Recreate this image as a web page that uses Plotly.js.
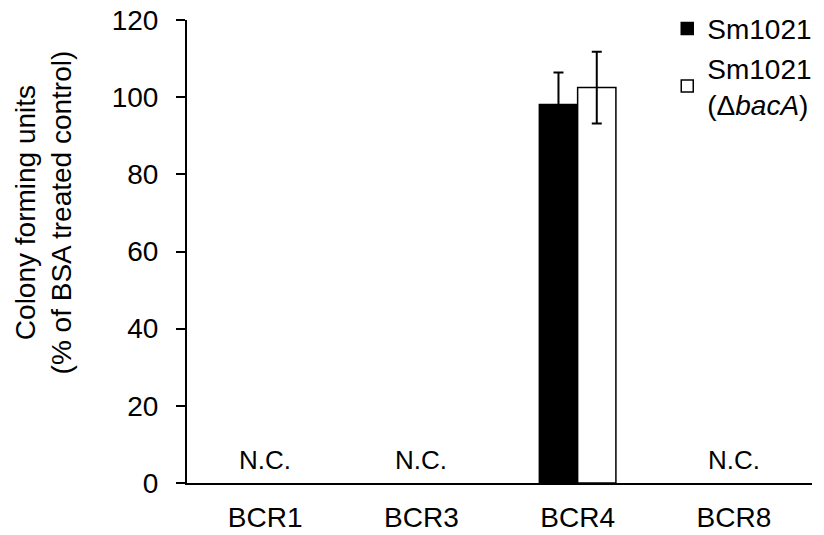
<!DOCTYPE html>
<html>
<head>
<meta charset="utf-8">
<script src="https://cdn.plot.ly/plotly-3.0.1.min.js"></script>
<style>html,body{margin:0;padding:0;background:#fff;}#chart{width:824px;height:535px;}</style>
</head>
<body>
<div id="chart"></div>
<script>
const categories = ["BCR1", "BCR3", "BCR4", "BCR8"];
const wildType = [null, null, 98.1, null];
const wildTypeErr = [null, null, 8.3, null];
const mutant = [null, null, 102.5, null];
const mutantErr = [null, null, 9.3, null];
const notCounted = ["BCR1", "BCR3", "BCR8"];
const yTicks = [0, 20, 40, 60, 80, 100, 120];
const yTitle = "Colony forming units<br>(% of BSA treated control)";

const font = "Liberation Sans, Arial, sans-serif";
const fs = 28;

const traces = [
  {
    type: "bar", name: "Sm1021", legendgroup: "wt", x: categories, y: wildType,
    marker: {color: "#000", line: {color: "#000", width: 1.5}},
    error_y: {type: "data", array: wildTypeErr, visible: true, color: "#000", thickness: 2, width: 5}
  },
  {
    type: "bar", name: "Sm1021<br>(\u0394<i>bacA</i>)", legendgroup: "mut", x: categories, y: mutant,
    marker: {color: "#fff", line: {color: "#000", width: 1.5}},
    error_y: {type: "data", array: mutantErr, visible: true, color: "#000", thickness: 2, width: 5}
  }
];

const annotations = notCounted.map(c => ({
  x: c, y: 6, xref: "x", yref: "y", text: "N.C.", showarrow: false,
  font: {family: font, size: 26, color: "#000"}
}));
annotations.push({
  xref: "paper", yref: "paper", x: -0.23, y: 0.585, xanchor: "center", yanchor: "middle",
  text: yTitle, textangle: -90, showarrow: false,
  font: {family: font, size: fs, color: "#000"}
});

const layout = {
  width: 824, height: 535,
  margin: {l: 187, r: 12, t: 20, b: 52, autoexpand: false},
  paper_bgcolor: "#fff", plot_bgcolor: "#fff",
  font: {family: font, size: fs, color: "#000"},
  barmode: "group", bargap: 0.51, bargroupgap: 0,
  showlegend: true,
  legend: {x: 0.7684, y: 1.035, xanchor: "left", yanchor: "top", font: {family: font, size: fs, color: "#000"},
           bgcolor: "rgba(0,0,0,0)", itemwidth: 30, tracegroupgap: 0},
  xaxis: {
    range: [-0.5, 3.5], showline: true, linecolor: "#000", linewidth: 2,
    ticks: "", showgrid: false, zeroline: false, tickfont: {family: font, size: fs, color: "#000"},
    ticklabelstandoff: 8
  },
  yaxis: {
    range: [0, 120], tickvals: yTicks, showline: true, linecolor: "#000", linewidth: 2,
    ticks: "outside", ticklen: 9, tickwidth: 2, tickcolor: "#000",
    showgrid: false, zeroline: false, tickfont: {family: font, size: fs, color: "#000"},
    ticklabelstandoff: 12
  },
  annotations: annotations
};

Plotly.newPlot("chart", traces, layout, {displayModeBar: false, staticPlot: true});
</script>
</body>
</html>
